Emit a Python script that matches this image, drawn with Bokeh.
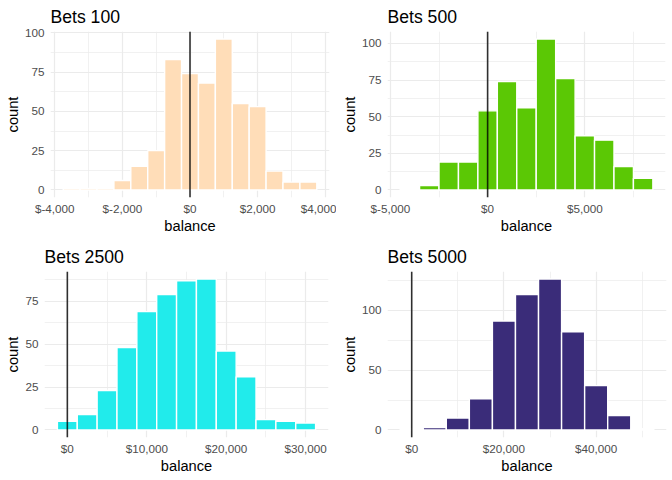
from bokeh.plotting import figure
from bokeh.layouts import row, column
from bokeh.models import Range1d, FixedTicker, Span
from bokeh.embed import file_html
from bokeh.resources import INLINE

FONT = "Liberation Sans"

titles = ["Bets 100", "Bets 500", "Bets 2500", "Bets 5000"]
colors = ["#FFDDB8", "#5BC805", "#21EBEB", "#3A2C79"]
bin_widths = [500, 1000, 2500, 5000]

b100_centers = [-3500, -3000, -2500, -2000, -1500, -1000, -500, 0, 500, 1000, 1500, 2000, 2500, 3000, 3500]
b100_counts = [1, 1, 1, 6, 15, 25, 83, 74, 68, 96, 55, 53, 12, 5, 5]

b500_centers = [-4000, -3000, -2000, -1000, 0, 1000, 2000, 3000, 4000, 5000, 6000, 7000, 8000]
b500_counts = [1, 3, 19, 19, 54, 74, 56, 103, 76, 37, 34, 16, 8]

b2500_centers = [0, 2500, 5000, 7500, 10000, 12500, 15000, 17500, 20000, 22500, 25000, 27500, 30000]
b2500_counts = [5, 9, 23, 48, 69, 79, 87, 88, 46, 31, 6, 5, 4]

b5000_centers = [0, 5000, 10000, 15000, 20000, 25000, 30000, 35000, 40000, 45000, 50000]
b5000_counts = [1, 2, 10, 26, 91, 113, 126, 82, 37, 12, 1]

x_ticks = [[-4000, -2000, 0, 2000, 4000],
           [-5000, 0, 5000],
           [0, 10000, 20000, 30000],
           [0, 20000, 40000]]
x_tick_labels = [["$-4,000", "$-2,000", "$0", "$2,000", "$4,000"],
                 ["$-5,000", "$0", "$5,000"],
                 ["$0", "$10,000", "$20,000", "$30,000"],
                 ["$0", "$20,000", "$40,000"]]
x_minor = [[-3000, -1000, 1000, 3000],
           [-2500, 2500, 7500],
           [5000, 15000, 25000],
           [10000, 30000, 50000]]
y_ticks = [[0, 25, 50, 75, 100],
           [0, 25, 50, 75, 100],
           [0, 25, 50, 75],
           [0, 50, 100]]
y_minor = [[12.5, 37.5, 62.5, 87.5],
           [12.5, 37.5, 62.5, 87.5],
           [12.5, 37.5, 62.5, 87.5],
           [25, 75, 125]]

centers_all = [b100_centers, b500_centers, b2500_centers, b5000_centers]
counts_all = [b100_counts, b500_counts, b2500_counts, b5000_counts]

# layout borders (left, right, top, bottom)
borders = [(50, 7, 31, 43), (51, 7, 31, 43), (44, 8, 31, 43), (51, 6, 31, 43)]


def make_panel(i):
    centers = centers_all[i]
    counts = counts_all[i]
    bw = bin_widths[i]
    lo = min(min(centers) - bw / 2, 0)
    hi = max(max(centers) + bw / 2, 0)
    pad = (hi - lo) * 0.05
    ymax = max(counts)
    ypad = ymax * 0.05
    bl, br, bt, bb = borders[i]
    p = figure(width=336, height=240, output_backend="svg", toolbar_location=None,
               x_range=Range1d(lo - pad, hi + pad), y_range=Range1d(-ypad, ymax + ypad),
               min_border_left=bl, min_border_right=br, min_border_top=bt, min_border_bottom=bb,
               title=titles[i])
    p.outline_line_color = None
    p.background_fill_color = "white"
    p.border_fill_color = "white"

    p.title.text_font = FONT
    p.title.text_font_size = "17.6px"
    p.title.text_font_style = "normal"
    p.title.text_color = "black"
    p.title.align = "left"
    p.title.offset = 0
    p.title.standoff = 9

    p.xaxis.ticker = FixedTicker(ticks=x_ticks[i], minor_ticks=x_minor[i])
    p.xaxis.major_label_overrides = {t: l for t, l in zip(x_ticks[i], x_tick_labels[i])}
    p.yaxis.ticker = FixedTicker(ticks=y_ticks[i], minor_ticks=y_minor[i])
    p.xaxis.axis_label = "balance"
    p.yaxis.axis_label = "count"
    for ax in (p.xaxis, p.yaxis):
        ax.axis_line_color = None
        ax.major_tick_line_color = None
        ax.minor_tick_line_color = None
        ax.major_tick_out = 0
        ax.major_tick_in = 0
        ax.minor_tick_out = 0
        ax.minor_tick_in = 0
        ax.major_label_text_font = FONT
        ax.major_label_text_font_size = "11.7px"
        ax.major_label_text_color = "#4D4D4D"
        ax.axis_label_text_font = FONT
        ax.axis_label_text_font_size = "14.67px"
        ax.axis_label_text_font_style = "normal"
        ax.axis_label_text_color = "black"
    p.xaxis.major_label_standoff = 4
    p.xaxis.axis_label_standoff = 0
    p.yaxis.major_label_standoff = 6
    p.yaxis.axis_label_standoff = 1

    for g in (p.xgrid, p.ygrid):
        g.grid_line_color = "#EBEBEB"
        g.grid_line_width = 1.2
        g.minor_grid_line_color = "#EBEBEB"
        g.minor_grid_line_width = 0.7

    p.vbar(x=centers, width=bw, top=counts, bottom=0,
           fill_color=colors[i], line_color="white", line_width=1.4)
    p.add_layout(Span(location=0, dimension="height", line_color="black",
                      line_alpha=0.8, line_width=1.6))
    return p


panels = [make_panel(i) for i in range(4)]
layout = column(row(panels[0], panels[1]), row(panels[2], panels[3]))

open("out.html", "w").write(file_html(layout, INLINE))
